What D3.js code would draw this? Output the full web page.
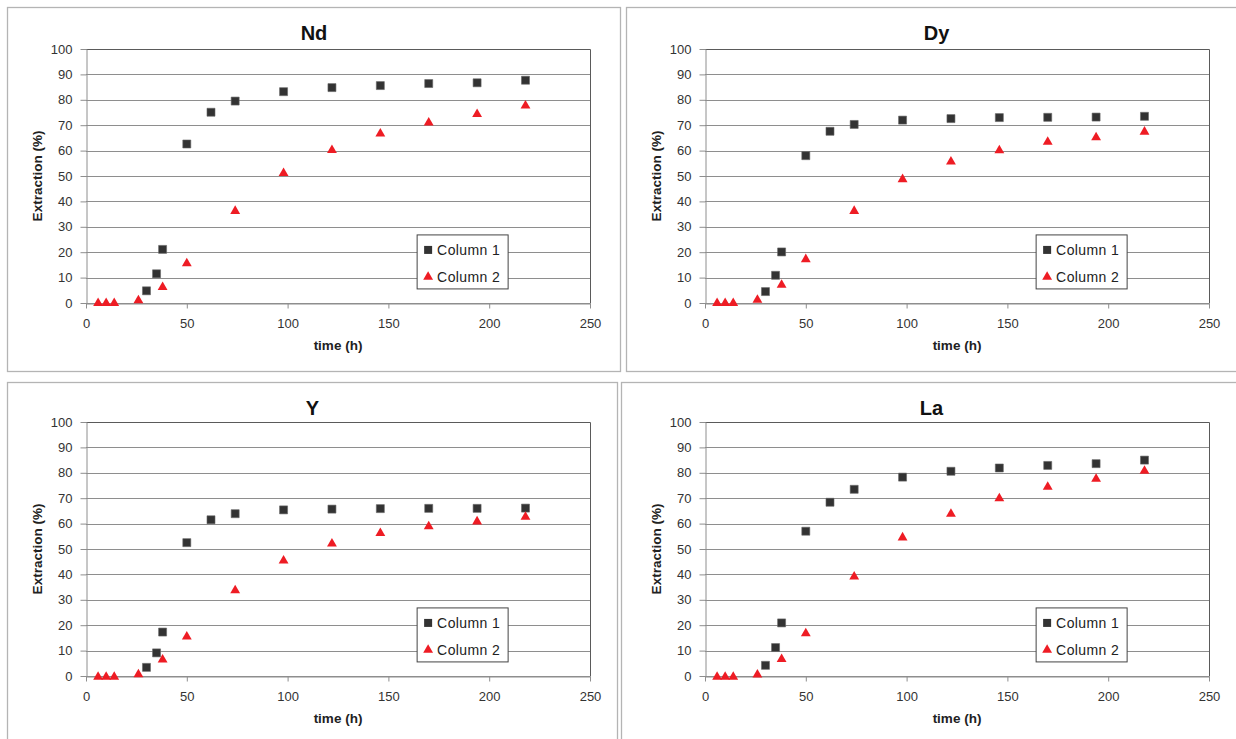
<!DOCTYPE html>
<html>
<head>
<meta charset="utf-8">
<script src="https://cdn.jsdelivr.net/npm/d3@7"></script>
<style>
  body { margin: 0; background: #fff; }
  svg { display: block; font-family: "Liberation Sans", Arial, sans-serif; }
</style>
</head>
<body>
<svg width="1236" height="739"></svg>
<script>
// sampling times (h)
var hoursCol1 = [30, 35, 38, 50, 62, 74, 98, 122, 146, 170, 194, 218]
var hoursCol2 = [6, 10, 14, 26, 38, 50, 74, 98, 122, 146, 170, 194, 218]

// extraction (%)
var ndCol1 = [4.8, 11.5, 21.1, 62.6, 75.1, 79.5, 83.2, 84.8, 85.6, 86.4, 86.7, 87.7]
var ndCol2 = [0.3, 0.3, 0.3, 1.4, 6.6, 16.0, 36.6, 51.5, 60.6, 67.1, 71.4, 74.7, 78.1]
var dyCol1 = [4.5, 10.9, 20.1, 58.0, 67.6, 70.3, 72.0, 72.6, 73.0, 73.1, 73.2, 73.5]
var dyCol2 = [0.3, 0.3, 0.3, 1.6, 7.5, 17.6, 36.6, 49.1, 56.0, 60.5, 63.8, 65.6, 67.8]
var yCol1 = [3.4, 9.1, 17.3, 52.5, 61.5, 63.9, 65.4, 65.7, 65.9, 66.0, 66.0, 66.1]
var yCol2 = [0, 0, 0, 1.0, 6.8, 15.9, 34.1, 45.8, 52.5, 56.6, 59.3, 61.2, 63.0]
var laCol1 = [4.2, 11.2, 20.9, 57.0, 68.4, 73.5, 78.3, 80.6, 81.9, 82.9, 83.6, 85.0]
var laCol2 = [0, 0, 0, 0.9, 7.0, 17.2, 39.5, 54.9, 64.2, 70.3, 74.8, 78.0, 81.1]

var xTicks = [0, 50, 100, 150, 200, 250]
var yTicks = [0, 10, 20, 30, 40, 50, 60, 70, 80, 90, 100]
var seriesNames = ["Column 1", "Column 2"]

var panels = [
    { title: "Nd", c1: ndCol1, c2: ndCol2, box: [7, 7, 613, 364], plot: [86, 49] },
    { title: "Dy", c1: dyCol1, c2: dyCol2, box: [626, 7, 620, 364], plot: [705, 49] },
    { title: "Y", c1: yCol1, c2: yCol2, box: [7, 382, 610, 370], plot: [86, 422] },
    { title: "La", c1: laCol1, c2: laCol2, box: [621, 382, 620, 370], plot: [705, 422] },
]

var plotW = 504, plotH = 254
var svg = d3.select("svg")

var sq = d3.symbol().type(d3.symbolSquare).size(64)
var tri = d3.symbol().type(d3.symbolTriangle).size(42)

panels.forEach(function (p) {
    // chart frame
    svg.append("rect")
        .attr("x", p.box[0] + 0.5).attr("y", p.box[1] + 0.5)
        .attr("width", p.box[2]).attr("height", p.box[3])
        .attr("fill", "#fff").attr("stroke", "#b4b4b4").attr("stroke-width", 1.3)

    var g = svg.append("g")
        .attr("transform", "translate(" + p.plot[0] + "," + p.plot[1] + ")")

    var x = d3.scaleLinear().domain([0, 250]).range([0, plotW])
    var y = d3.scaleLinear().domain([0, 100]).range([plotH, 0])

    // gridlines
    g.append("g")
        .selectAll("line")
        .data(yTicks)
        .enter()
        .append("line")
        .attr("x1", 0).attr("x2", plotW)
        .attr("y1", (d) => Math.round(y(d)) + 0.5)
        .attr("y2", (d) => Math.round(y(d)) + 0.5)
        .attr("stroke", "#8e8e8e")

    // plot border (top, right)
    g.append("path")
        .attr("d", "M0.5,0.5H" + (plotW + 0.5) + "V" + (plotH + 0.5))
        .attr("fill", "none").attr("stroke", "#5a5a5a")

    var xAxis = g.append("g")
        .attr("transform", "translate(0," + (plotH + 0.5) + ")")
        .call(d3.axisBottom(x).tickValues(xTicks).tickSize(5).tickPadding(10).tickSizeOuter(0))
    var yAxis = g.append("g")
        .attr("transform", "translate(0.5,0)")
        .call(d3.axisLeft(y).tickValues(yTicks).tickSize(6).tickPadding(8).tickSizeOuter(0))

    ;[xAxis, yAxis].forEach(function (a) {
        a.select(".domain").attr("stroke", "#8e8e8e")
        a.selectAll(".tick line").attr("stroke", "#8e8e8e")
        a.selectAll(".tick text")
            .attr("fill", "#333")
            .attr("font-size", 13)
            .attr("font-family", "Liberation Sans, Arial, sans-serif")
    })
    xAxis.select(".domain").attr("stroke", "#8e8e8e")

    // title
    svg.append("text")
        .attr("x", p.box[0] + p.box[2] / 2 + 0.5)
        .attr("y", p.box[1] + 33)
        .attr("text-anchor", "middle")
        .attr("font-size", 20)
        .attr("font-weight", "bold")
        .attr("fill", "#111")
        .text(p.title)

    // axis titles
    g.append("text")
        .attr("x", plotW / 2)
        .attr("y", plotH + 47)
        .attr("text-anchor", "middle")
        .attr("font-size", 13.5)
        .attr("font-weight", "bold")
        .attr("fill", "#222")
        .text("time (h)")

    g.append("text")
        .attr("transform", "translate(-44," + plotH / 2 + ") rotate(-90)")
        .attr("text-anchor", "middle")
        .attr("font-size", 13.5)
        .attr("font-weight", "bold")
        .attr("fill", "#222")
        .text("Extraction (%)")

    // markers
    g.selectAll(".c1")
        .data(p.c1)
        .enter()
        .append("path")
        .attr("d", sq)
        .attr("transform", (d, i) => "translate(" + x(hoursCol1[i]) + "," + y(d) + ")")
        .attr("fill", "#333")
        .attr("stroke", "#666").attr("stroke-width", 0.6)

    g.selectAll(".c2")
        .data(p.c2)
        .enter()
        .append("path")
        .attr("d", tri)
        .attr("transform", (d, i) => "translate(" + x(hoursCol2[i]) + "," + (y(d) + 1) + ")")
        .attr("fill", "#ee1c24")

    // legend
    var lg = g.append("g")
        .attr("transform", "translate(" + (x(164) + 0.5) + "," + (y(27) + 0.5) + ")")
    lg.append("rect")
        .attr("width", 91).attr("height", 54)
        .attr("fill", "#fff").attr("stroke", "#444").attr("stroke-width", 1)
    seriesNames.forEach(function (name, i) {
        var row = lg.append("g").attr("transform", "translate(11," + (15 + i * 27) + ")")
        row.append("path")
            .attr("d", i === 0 ? sq : tri)
            .attr("fill", i === 0 ? "#333" : "#ee1c24")
        row.append("text")
            .attr("x", 9).attr("y", 5)
            .attr("font-size", 14)
            .attr("letter-spacing", 0.4)
            .attr("fill", "#222")
            .text(name)
    })
})
</script>
</body>
</html>
